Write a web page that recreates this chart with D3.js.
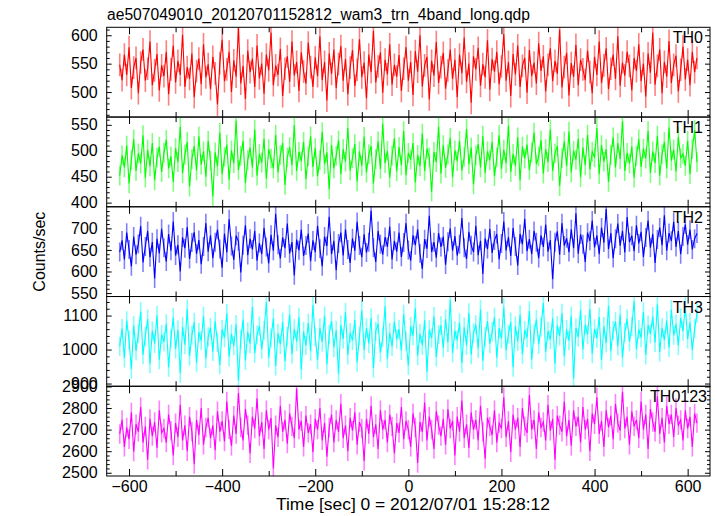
<!DOCTYPE html>
<html><head><meta charset="utf-8">
<script src="https://cdn.jsdelivr.net/npm/d3@7"></script>
<style>body{margin:0;background:#fff} text{font-family:"Liberation Sans",Arial,Helvetica,sans-serif;fill:#000}</style>
</head><body><svg id="c" width="717" height="516"></svg>
<script>
const title = "ae507049010_20120701152812_wam3_trn_4band_long.qdp";
const xLabel = "Time [sec] 0 = 2012/07/01 15:28:12";
const yLabel = "Counts/sec";
const tStart = -620, binSize = 5;

const th0 = [548,521,566,530,579,507,543,560,498,552,575,520,541,589,512,538,567,503,547,528,
571,496,540,582,517,555,530,601,509,544,523,568,491,537,559,514,584,526,549,505,
562,533,478,551,592,519,540,571,500,556,527,613,515,546,488,573,535,559,509,582,
524,550,497,566,538,605,512,547,530,576,493,541,563,518,589,529,553,502,570,536,
515,587,544,509,561,528,598,521,553,485,568,532,575,507,549,581,520,558,496,543,
574,511,539,593,526,552,489,566,535,608,517,545,570,499,557,531,584,513,548,527,
565,502,541,579,520,553,495,572,536,600,510,547,562,487,555,529,588,516,544,569,
506,538,575,523,557,491,566,533,596,518,550,481,563,540,578,511,549,526,591,504,
558,536,571,514,545,602,520,553,493,567,531,582,509,546,560,499,574,528,552,515,
586,537,563,501,548,577,519,555,532,610,508,544,569,494,551,527,583,512,557,540,
521,573,535,498,562,530,589,516,547,577,505,541,566,523,598,511,552,529,571,546,
503,560,537,584,519,550,492,568,534,605,513,546,575,498,553,527,590,516,548,564,
501,539,580,522,557,512,571,535,560];

const th1 = [452,491,468,510,437,483,522,461,495,475,530,448,502,470,515,443,487,508,459,496,
521,466,489,440,505,478,546,457,493,517,431,484,509,462,528,473,499,450,519,481,
412,497,470,535,455,488,512,444,501,476,558,463,490,519,438,482,506,468,541,452,
494,477,523,446,503,485,466,531,458,492,515,434,487,507,472,549,461,498,480,517,
445,489,528,469,505,451,482,536,474,497,426,511,466,490,520,455,503,479,544,462,
486,513,441,499,471,527,458,493,509,437,484,518,465,552,476,500,448,490,524,460,
507,472,538,453,496,483,515,439,492,470,533,461,504,487,421,498,478,546,456,511,
467,493,525,449,501,480,519,462,488,542,474,506,435,491,513,468,529,457,499,482,
517,451,487,530,465,502,476,548,459,494,471,526,443,508,485,512,463,497,535,474,
489,520,456,503,478,541,461,495,509,432,486,518,470,537,458,500,483,523,449,506,
472,531,464,498,487,544,455,511,479,503,440,492,526,468,515,484,557,461,496,475,
508,448,490,522,469,504,485,538,457,499,476,529,452,493,517,466,545,481,502,460,
527,486,494,471,519,455,503,540,478];

const th2 = [645,672,628,690,651,612,681,639,664,705,621,658,694,633,668,584,676,642,699,655,
623,687,648,716,637,662,600,679,654,703,629,667,691,641,673,617,658,712,646,684,
631,668,697,652,609,688,644,721,659,627,683,670,598,661,707,638,676,651,694,625,
666,640,701,657,619,685,648,734,662,630,679,654,711,642,668,591,674,649,697,636,
660,688,624,672,645,706,653,612,681,659,727,640,671,603,665,690,637,698,651,620,
677,648,715,660,633,686,644,668,741,655,622,694,663,639,680,657,704,628,671,646,
690,634,667,712,650,625,684,661,698,642,606,675,653,729,645,668,632,689,657,681,
616,669,700,648,682,637,663,724,655,629,692,661,645,706,638,671,594,677,652,699,
643,672,687,628,665,716,649,680,636,701,658,614,687,663,722,647,675,640,694,668,
631,684,657,709,646,673,582,668,693,639,712,660,677,645,698,654,735,641,686,663,
622,690,671,718,656,684,640,702,667,745,652,689,631,676,711,660,694,644,726,668,
683,647,707,665,692,634,679,718,655,687,620,674,702,661,730,648,689,671,715,657,
694,640,681,709,662,697,651,676,688];

const th3 = [1010,1062,975,1085,1028,942,1071,996,1047,1112,985,1039,1090,958,1055,1018,1101,970,1044,1023,
1076,948,1033,1094,1002,1058,930,1067,1014,1119,981,1042,1080,961,1051,1026,1098,973,1037,1065,
994,1083,1020,955,1059,1035,1106,979,1046,1011,1074,908,1030,1088,968,1052,1017,1125,989,1043,
1069,1001,1056,1140,976,1034,1092,952,1048,1015,1081,966,1039,1103,987,1061,1024,1095,940,1053,
1012,1078,995,1131,1037,970,1064,1022,1099,957,1045,1084,1006,1057,929,1072,1031,1110,984,1049,
1027,1087,963,1040,1115,999,1063,1018,1093,945,1054,1076,991,1036,1127,973,1050,1009,1082,1030,
1060,997,1104,1025,953,1068,1041,1121,982,1047,1013,1086,935,1058,1034,1097,978,1044,1071,1005,
1090,1021,1146,990,1055,1028,1079,960,1066,1012,1108,985,1049,1073,1003,1118,967,1038,1084,1017,
1052,1095,976,1063,1032,1124,998,1045,1081,948,1069,1024,1102,986,1057,1035,1113,971,1046,1088,
1015,1066,1137,993,1054,1029,1092,958,1071,1040,1107,980,1059,1026,1099,915,1063,1037,1116,1000,
1074,1044,1120,988,1061,1033,1096,969,1068,1019,1129,995,1056,1082,1010,1103,977,1050,1090,1023,
1067,1142,1001,1059,1035,1111,984,1072,1046,1097,1021,1133,992,1064,1028,1085,1006,1118,1042,1075,
1012,1093,1054,1126,1031,1080,998,1061,1107];

const th0123 = [2680,2745,2620,2710,2655,2780,2598,2725,2690,2805,2640,2715,2560,2750,2670,2735,2615,2790,2685,2705,
2640,2770,2695,2580,2730,2665,2815,2650,2720,2600,2760,2690,2540,2745,2675,2800,2630,2710,2755,2660,
2720,2605,2785,2690,2740,2645,2830,2700,2625,2765,2680,2870,2710,2650,2795,2720,2590,2760,2705,2845,
2670,2735,2610,2790,2700,2755,2520,2720,2665,2810,2690,2745,2635,2775,2715,2660,2890,2700,2740,2620,
2765,2685,2725,2595,2750,2700,2800,2650,2730,2575,2710,2770,2640,2745,2690,2820,2660,2720,2600,2755,
2695,2780,2630,2735,2705,2555,2750,2680,2810,2665,2725,2610,2790,2700,2745,2640,2770,2715,2590,2730,
2685,2805,2655,2740,2700,2620,2775,2710,2545,2735,2690,2825,2650,2760,2700,2610,2785,2720,2670,2750,
2630,2795,2705,2740,2580,2760,2690,2835,2660,2725,2615,2780,2700,2745,2650,2810,2690,2565,2755,2715,
2675,2790,2640,2730,2705,2850,2665,2740,2595,2770,2700,2755,2620,2800,2715,2685,2860,2700,2745,2610,
2780,2710,2735,2650,2815,2695,2750,2560,2765,2720,2690,2830,2670,2745,2625,2790,2715,2760,2640,2805,
2700,2750,2600,2775,2725,2850,2680,2740,2620,2790,2710,2765,2655,2820,2730,2695,2875,2705,2760,2630,
2785,2715,2745,2660,2830,2700,2770,2610,2795,2735,2690,2855,2680,2755,2640,2810,2725,2770,2665,2800,
2720,2745,2650,2790,2705,2760,2620,2775,2730];

const seriesNames = ["TH0","TH1","TH2","TH3","TH0123"];
const seriesValues = [th0, th1, th2, th3, th0123];
const seriesErr = [20, 19, 22, 28, 45];
const yDomains = [[456,614],[392,565],[542,750],[892,1156],[2485,2901]];
const yMajor = [[500,550,600],[400,450,500,550],[550,600,650,700],[900,1000,1100],[2500,2600,2700,2800,2900]];
const yMinorStep = [10,10,10,20,20];
const xDomain = [-648, 648];
const xMajor = [-600,-400,-200,0,200,400,600];
const xMinor = [-500,-300,-100,100,300,500];
const colors = ["#ff0000","#00ff00","#0000ff","#00ffff","#ff00ff"];

const svg = d3.select("#c");
const L = 106.7, R = 710, T = 27.3, B = 476;
const nP = seriesValues.length;
const pH = (B - T) / nP;
const x = d3.scaleLinear().domain(xDomain).range([L, R]);
const fmt = d3.format("d");
const FS = 16;

svg.append("text").attr("x", 107).attr("y", 20).attr("font-size", FS)
  .attr("textLength", 423).attr("lengthAdjust", "spacingAndGlyphs").text(title);

seriesValues.forEach((vals, i) => {
  const top = T + i * pH, bot = top + pH;
  const y = d3.scaleLinear().domain(yDomains[i]).range([bot, top]);
  const g = svg.append("g");
  const cid = "clip" + i;
  svg.append("clipPath").attr("id", cid).append("rect")
    .attr("x", L).attr("y", top).attr("width", R - L).attr("height", pH);
  const data = vals.map((v, k) => ({t: tStart + k * binSize, v}));
  // error bars
  const err = seriesErr[i];
  const p = d3.path();
  data.forEach(d => { p.moveTo(x(d.t), y(d.v - err)); p.lineTo(x(d.t), y(d.v + err)); });
  g.append("path").attr("clip-path", `url(#${cid})`).attr("d", p.toString())
    .attr("stroke", colors[i]).attr("stroke-opacity", 0.5).attr("stroke-width", 1.6).attr("fill", "none");
  const line = d3.line().x(d => x(d.t)).y(d => y(d.v)).curve(d3.curveLinear);
  g.append("path").datum(data).attr("clip-path", `url(#${cid})`).attr("d", line)
    .attr("stroke", colors[i]).attr("stroke-width", 1.1).attr("fill", "none");

  // y axes
  const lo = yDomains[i][0], hi = yDomains[i][1], st = yMinorStep[i];
  const minors = d3.range(Math.ceil(lo / st) * st, hi, st).filter(v => !yMajor[i].includes(v));
  const yl = d3.axisLeft(y).tickValues(yMajor[i]).tickSize(-5).tickPadding(9).tickFormat(fmt);
  const ylm = d3.axisLeft(y).tickValues(minors).tickSize(-3).tickFormat("");
  const yr = d3.axisRight(y).tickValues(yMajor[i]).tickSize(-5).tickFormat("");
  const yrm = d3.axisRight(y).tickValues(minors).tickSize(-3).tickFormat("");
  [[yl, L], [ylm, L], [yr, R], [yrm, R]].forEach(([ax, px]) => {
    const a = g.append("g").attr("transform", `translate(${px},0)`).call(ax);
    a.select(".domain").remove();
    a.selectAll("line").attr("stroke", "#000");
    a.selectAll("text").attr("font-size", FS).attr("font-family", "Liberation Sans, Arial, sans-serif").attr("fill", "#000");
  });
  // x ticks top and bottom
  const xt = d3.axisTop(x).tickValues(xMajor).tickSize(-7).tickFormat("");
  const xtm = d3.axisTop(x).tickValues(xMinor).tickSize(-5).tickFormat("");
  const xb = d3.axisBottom(x).tickValues(xMajor).tickSize(-7).tickFormat("");
  const xbm = d3.axisBottom(x).tickValues(xMinor).tickSize(-5).tickFormat("");
  [[xt, top], [xtm, top], [xb, bot], [xbm, bot]].forEach(([ax, py]) => {
    const a = g.append("g").attr("transform", `translate(0,${py})`).call(ax);
    a.select(".domain").remove();
    a.selectAll("line").attr("stroke", "#000");
  });
  g.append("rect").attr("x", L).attr("y", top).attr("width", R - L).attr("height", pH)
    .attr("fill", "none").attr("stroke", "#000").attr("stroke-width", 1);
  g.append("text").attr("x", i === nP - 1 ? 707 : 703).attr("y", top + 16)
    .attr("text-anchor", "end").attr("font-size", FS).text(seriesNames[i]);
});

// bottom x labels
const xa = svg.append("g").attr("transform", `translate(0,${B})`)
  .call(d3.axisBottom(x).tickValues(xMajor).tickSize(0).tickPadding(5)
    .tickFormat(d => d < 0 ? "\u2212" + Math.abs(d) : String(d)));
xa.select(".domain").remove();
xa.selectAll("text").attr("font-size", FS).attr("font-family", "Liberation Sans, Arial, sans-serif").attr("fill", "#000");

svg.append("text").attr("x", 413).attr("y", 510).attr("text-anchor", "middle")
  .attr("font-size", FS).attr("textLength", 274).attr("lengthAdjust", "spacingAndGlyphs").text(xLabel);
svg.append("text").attr("transform", `translate(45,${(T + B) / 2}) rotate(-90)`)
  .attr("text-anchor", "middle").attr("font-size", FS).text(yLabel);
</script></body></html>
